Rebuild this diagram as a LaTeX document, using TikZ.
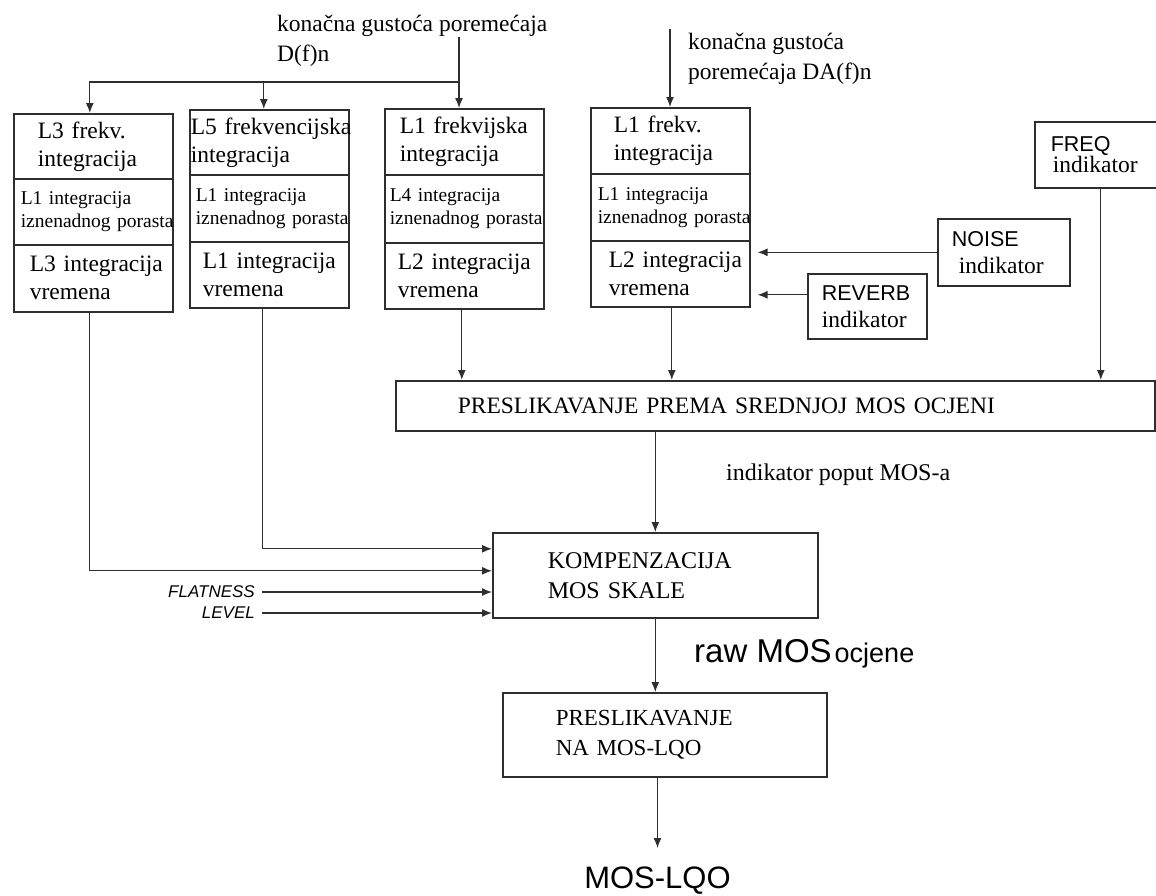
\documentclass[tikz,border=0pt]{standalone}
\usepackage{fontspec}
\setmainfont{Liberation Serif}
\newfontfamily\arialf{Liberation Sans}
\usetikzlibrary{arrows.meta}
\newcommand\fsz[2]{\fontsize{#1}{#2}\selectfont}
\definecolor{linec}{HTML}{2E2E2E}
\hyphenpenalty=10000
\exhyphenpenalty=10000
\hbadness=10000
\hfuzz=200pt
\begin{document}
\begin{tikzpicture}[x=1pt,y=-1pt,
  cell/.style={draw=linec, line width=1.6pt, rectangle, anchor=north west, inner ysep=0pt, align=left, font=\fsz{23.5}{28}},
  smallcell/.style={font=\fsz{19.5}{23}},
  arr/.style={draw=linec, line width=1.3pt, -{Latex[length=10pt,width=8pt]}},
  ln/.style={draw=linec, line width=1.3pt},
  lbl/.style={inner sep=0pt, align=left, font=\fsz{23.5}{30}},
  sidelbl/.style={inner sep=0pt, anchor=east, font=\arialf\itshape\fsz{17}{17}}]
\useasboundingbox (0,0) rectangle (1156,895);
\clip (0,0) rectangle (1156,895);
\fill[white] (0,0) rectangle (1156,895);

% column 1
\node[cell, minimum height=65pt, inner xsep=24pt, text width=111pt] (b1a) at (13,113) {\mbox{L3 frekv.}\\\mbox{integracija}};
\node[cell, smallcell, minimum height=66pt, inner xsep=7pt, text width=145pt] (b1b) at (13,178) {\mbox{L1 integracija}\\\mbox{iznenadnog porasta}};
\node[cell, minimum height=67pt, inner xsep=16pt, text width=127pt] (b1c) at (13,244) {\mbox{L3 integracija}\\\mbox{vremena}};
% column 2
\node[cell, minimum height=65pt, inner xsep=1pt, text width=157pt] (b2a) at (189,109) {\mbox{L5 frekvencijska}\\\mbox{integracija}};
\node[cell, smallcell, minimum height=67pt, inner xsep=6pt, text width=147pt] (b2b) at (189,174) {\mbox{L1 integracija}\\\mbox{iznenadnog porasta}};
\node[cell, minimum height=66pt, inner xsep=13pt, text width=133pt] (b2c) at (189,241) {\mbox{L1 integracija}\\\mbox{vremena}};
% column 3
\node[cell, minimum height=66pt, inner xsep=15pt, text width=129pt] (b3a) at (384,108) {\mbox{L1 frekvijska}\\\mbox{integracija}};
\node[cell, smallcell, minimum height=68pt, inner xsep=5pt, text width=149pt] (b3b) at (384,174) {\mbox{L4 integracija}\\\mbox{iznenadnog porasta}};
\node[cell, minimum height=66pt, inner xsep=13pt, text width=133pt] (b3c) at (384,242) {\mbox{L2 integracija}\\\mbox{vremena}};
% column 4
\node[cell, minimum height=66pt, inner xsep=23pt, text width=113pt] (b4a) at (590,107) {\mbox{L1 frekv.}\\\mbox{integracija}};
\node[cell, smallcell, minimum height=67pt, inner xsep=7pt, text width=145pt] (b4b) at (590,173) {\mbox{L1 integracija}\\\mbox{iznenadnog porasta}};
\node[cell, minimum height=66pt, inner xsep=18pt, text width=123pt] (b4c) at (590,240) {\mbox{L2 integracija}\\\mbox{vremena}};

% indicators
\node[cell, font=\fsz{23.5}{21}, minimum height=66pt, inner xsep=16pt, text width=114pt] (freq) at (1034,121) {{\arialf\fsz{21.5}{21}FREQ}\\\hspace*{2pt}indikator};
\node[cell, font=\fsz{23.5}{27}, minimum height=67pt, inner xsep=14pt, text width=104pt] (noise) at (937,218) {{\arialf\fsz{21.5}{27}NOISE}\\\hspace*{7pt}indikator};
\node[cell, font=\fsz{23.5}{27}, minimum height=65pt, inner xsep=14pt, text width=91pt] (reverb) at (807,273) {{\arialf\fsz{21.5}{27}REVERB}\\indikator};

% processing boxes
\node[cell, minimum height=50pt, inner xsep=62pt, text width=635pt] (pmos) at (395,380) {\mbox{PRESLIKAVANJE PREMA SREDNJOJ MOS OCJENI}};
\node[cell, font=\fsz{24}{30}, minimum height=85pt, inner xsep=55pt, text width=215pt] (komp) at (492,532) {KOMPENZACIJA\\\mbox{MOS SKALE}};
\node[cell, font=\fsz{23}{30}, minimum height=84pt, inner xsep=53pt, text width=218pt] (pna) at (502,692) {PRESLIKAVANJE\\\mbox{NA MOS-LQO}};

% labels
\node[lbl, anchor=north west] (lab1) at (277,15) {konačna gustoća poremećaja\\D(f)n};
\node[lbl, anchor=north west] (lab2) at (688,33) {konačna gustoća\\poremećaja DA(f)n};
\node[lbl, anchor=west, font=\fsz{24}{24}] (labmos) at (726,475) {indikator poput MOS-a};
\node[inner sep=0pt, anchor=base west] (labraw) at (694,662) {{\arialf\fsz{33}{33}raw MOS}\hspace{3pt}{\arialf\fsz{27}{27}ocjene}};
\node[inner sep=0pt, anchor=north, font=\arialf\fsz{31}{31}] (out) at (657.5,867) {MOS-LQO};
\node[sidelbl] (flat) at (255,592) {FLATNESS};
\node[sidelbl] (lev) at (255,613) {LEVEL};

% top inputs
\coordinate (src1) at (459,37);
\coordinate (j1) at (459,82);
\coordinate (src2) at (670,29);
\draw[arr] (src1) -- (src1 |- b3a.north);
\draw[arr] (j1) -| ([xshift=-3.5pt]b1a.north);
\draw[arr] ([xshift=-5.5pt]b2a.north |- j1) -- ([xshift=-5.5pt]b2a.north);
\draw[arr] (src2) -- (src2 |- b4a.north);

% indicators into column 4
\draw[arr, shorten >=7pt] (noise.west) -- (noise.west -| b4c.east);
\draw[arr, shorten >=7pt] ([yshift=11.5pt]reverb.west) -- ([yshift=11.5pt]reverb.west -| b4c.east);

% into PMOS
\draw[arr] ([xshift=-2.5pt]b3c.south) -- ([xshift=-2.5pt]b3c.south |- pmos.north);
\draw[arr] ([xshift=1.5pt]b4c.south) -- ([xshift=1.5pt]b4c.south |- pmos.north);
\draw[arr] ([xshift=-7pt]freq.south) -- ([xshift=-7pt]freq.south |- pmos.north);

% into KOMP
\draw[arr] (komp.north |- pmos.south) -- (komp.north);
\draw[arr] ([xshift=-6.5pt]b2c.south) |- ([yshift=26.5pt]komp.west);
\draw[arr] ([xshift=-3.5pt]b1c.south) |- ([yshift=4.5pt]komp.west);
\draw[arr, shorten <=7pt] (flat.east) -- (flat.east -| komp.west);
\draw[arr, shorten <=7pt] (lev.east) -- (lev.east -| komp.west);

% down the chain
\draw[arr] (komp.south) -- (komp.south |- pna.north);
\draw[arr] (out.north |- pna.south) -- ([yshift=19pt]out.north);
\end{tikzpicture}
\end{document}
